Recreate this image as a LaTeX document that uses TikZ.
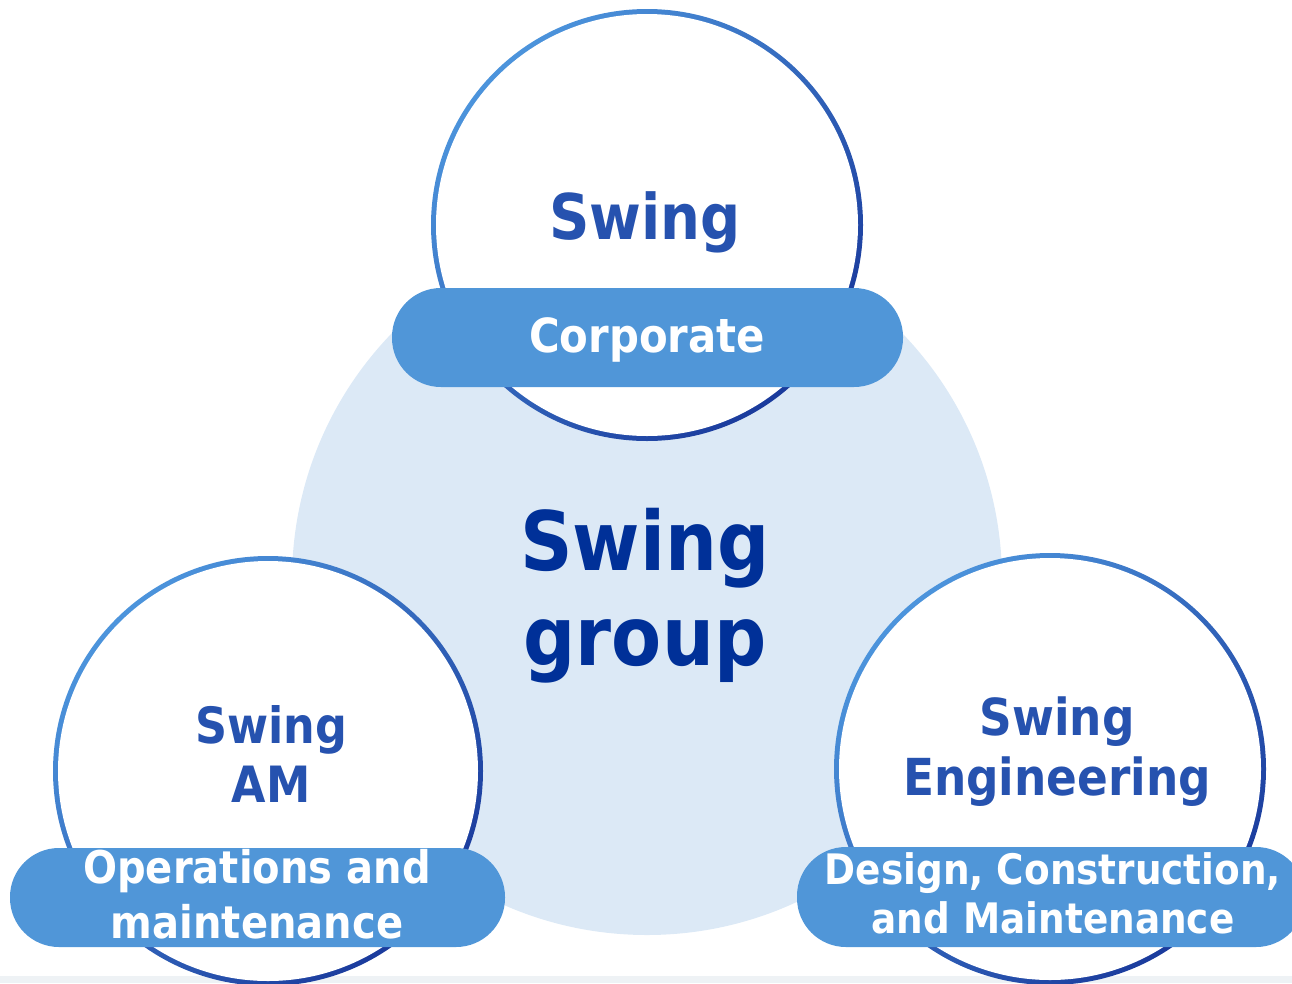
\documentclass[tikz,border=0pt]{standalone}
\usepackage{fontspec}
\setmainfont{DejaVu Sans}[FakeStretch=0.89]

\newlength{\du}
\setlength{\du}{1pt}

\definecolor{discfill}{RGB}{220,233,246}
\definecolor{pillblue}{RGB}{80,150,216}
\definecolor{ringlight}{RGB}{76,148,220}
\definecolor{ringdark}{RGB}{26,58,156}
\definecolor{unitblue}{RGB}{38,82,175}
\definecolor{groupblue}{RGB}{0,48,152}
\definecolor{stripgray}{RGB}{238,242,245}

\tikzset{
  ringshade/.style={top color=ringlight, bottom color=ringdark, shading angle=45},
  pillbox/.style={fill=pillblue, rounded corners=49\du},
  unitlabel/.style 2 args={anchor=base, inner sep=0pt, align=center,
    font=\bfseries\fontsize{#1}{#2}\selectfont},
}

\begin{document}
\begin{tikzpicture}
\pgftransformxscale{1.000000}
\pgftransformyscale{-1.000000}
\useasboundingbox (0\du,0\du) rectangle (1292\du,983\du);
\fill[stripgray] (0\du,976\du) rectangle (1292\du,983\du);
% group disc
\fill[discfill] (647\du,580\du) circle (355\du);
% unit rings
\shade[ringshade] (647\du,225\du) circle (216\du);
\fill[white] (647\du,225\du) circle (211\du);
\shade[ringshade] (268\du,771\du) circle (215\du);
\fill[white] (268\du,771\du) circle (210\du);
\shade[ringshade] (1050\du,769\du) circle (216\du);
\fill[white] (1050\du,769\du) circle (211\du);
% pills
\fill[pillbox] (392\du,288\du) rectangle (903\du,387\du);
\fill[pillbox] (10\du,848\du) rectangle (505\du,947\du);
\fill[pillbox] (797\du,847\du) rectangle (1305\du,947\du);
% labels (base = last line)
\node[unitlabel={82}{95}, text=groupblue] (group) at (645\du,665\du){Swing\\group};
\node[unitlabel={63}{70}, text=unitblue] (corp) at (645\du,239\du){Swing};
\node[unitlabel={47}{55}, text=white] (corptask) at (647\du,352\du){Corporate};
\node[unitlabel={50}{59}, text=unitblue] (am) at (271\du,802\du){Swing\\AM};
\node[unitlabel={45}{55}, text=white] (amtask) at (257\du,938\du){Operations and\\maintenance};
\node[unitlabel={51}{60}, text=unitblue] (eng) at (1057\du,795\du){Swing\\Engineering};
\node[unitlabel={42}{49}, text=white] (engtask) at (1053\du,933\du){Design, Construction,\\and Maintenance};
\end{tikzpicture}
\end{document}
